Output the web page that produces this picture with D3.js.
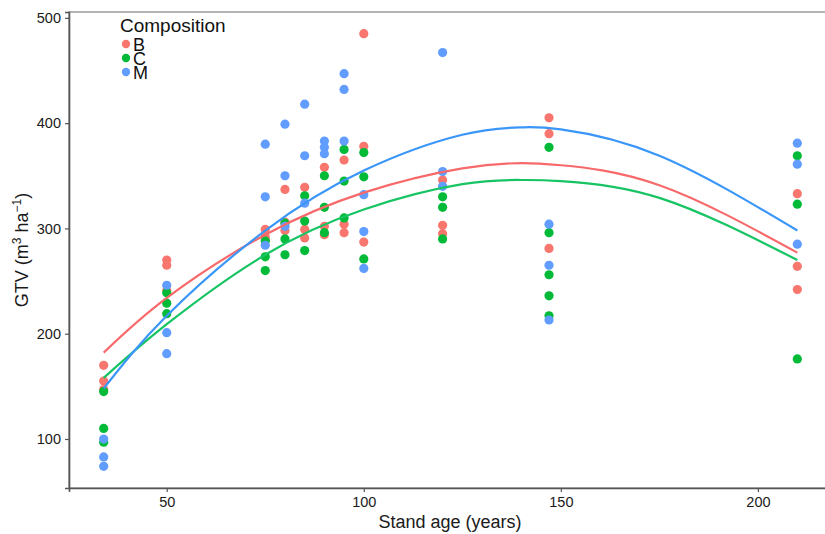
<!DOCTYPE html>
<html>
<head>
<meta charset="utf-8">
<script src="https://cdn.jsdelivr.net/npm/d3@7"></script>
<style>
  html, body { margin: 0; padding: 0; background: #fff; }
  svg { display: block; font-family: "Liberation Sans", Arial, sans-serif; }
</style>
</head>
<body>
<svg id="chart" width="825" height="534"></svg>
<script>
// Stand ages sampled
const ages = [34, 50, 75, 80, 85, 90, 95, 100, 120, 147, 210];

// Gross total volume (m3/ha) per stand age, by composition
const volB = [
  [170, 155, 147], [270, 265, 241], [299, 292, 289], [337, 306, 298],
  [339, 299, 291], [358, 302, 294], [365, 304, 296], [485, 378, 287],
  [346, 303, 295], [405, 390, 281], [333, 264, 242]
];
const volC = [
  [145, 110, 97], [239, 229, 219], [288, 273, 260], [305, 290, 275],
  [331, 307, 279], [350, 320, 296], [375, 345, 310], [372, 349, 271],
  [330, 320, 290], [377, 296, 256, 236, 217], [369, 323, 176]
];
const volM = [
  [100, 83, 74], [246, 201, 181], [380, 330, 284], [399, 350, 302],
  [418, 369, 324], [383, 377, 371], [447, 432, 383], [332, 297, 262],
  [467, 354, 340], [304, 265, 213], [381, 361, 285]
];

// Quadratic trend curves per composition, sampled along stand age
const trendAges = [34, 50, 75, 100, 125, 140, 150, 175, 210];
const trendB = [182, 234, 294, 334, 357, 362, 360, 341, 277];
const trendC = [158, 209, 275, 318, 342, 346, 345, 329, 270];
const trendM = [148, 217, 298, 355, 389, 396, 394, 369, 298];

const groups = ["B", "C", "M"];
const pointColors = ["#F8766D", "#00BA38", "#619CFF"];
const lineColors = ["#F8696B", "#17C463", "#3A96F8"];
const xTicks = [50, 100, 150, 200];
const yTicks = [100, 200, 300, 400, 500];

const series = [volB, volC, volM];
const trends = [trendB, trendC, trendM];
const points = [];
series.forEach((s, gi) => s.forEach((vals, ai) => vals.forEach(v =>
  points.push({ group: groups[gi], gi, age: ages[ai], vol: v }))));

// Panel geometry
const svg = d3.select("#chart");
const panelLeft = 69, panelTop = 12, panelBottom = 488, panelRight = 832;

const xExt = d3.extent(points, d => d.age);
const yExt = d3.extent(points, d => d.vol);
const xPad = (xExt[1] - xExt[0]) * 0.05, yPad = (yExt[1] - yExt[0]) * 0.05;

const x = d3.scaleLinear().domain([xExt[0] - xPad, xExt[1] + xPad]).range([panelLeft, panelRight]);
const y = d3.scaleLinear().domain([yExt[0] - yPad, yExt[1] + yPad]).range([panelBottom, panelTop]);

// Panel border (top edge visible)
svg.append("rect")
  .attr("x", panelLeft).attr("y", panelTop)
  .attr("width", panelRight - panelLeft).attr("height", panelBottom - panelTop)
  .attr("fill", "none").attr("stroke", "#9a9a9a").attr("stroke-width", 1.5);

// Axes
const xAxis = svg.append("g").attr("transform", `translate(0,${panelBottom})`)
  .call(d3.axisBottom(x).tickValues(xTicks).tickSize(4).tickPadding(5));
const yAxis = svg.append("g").attr("transform", `translate(${panelLeft},0)`)
  .call(d3.axisLeft(y).tickValues(yTicks).tickSize(4).tickPadding(4));
[xAxis, yAxis].forEach(g => {
  g.select(".domain").attr("stroke", "#555").attr("stroke-width", 1.6);
  g.selectAll(".tick line").attr("stroke", "#555").attr("stroke-width", 1.2);
  g.selectAll(".tick text").attr("fill", "#1a1a1a")
    .style("font-size", "14.5px").style("font-family", "Liberation Sans, Arial, sans-serif");
});

// Points
svg.append("g").selectAll("circle").data(points).join("circle")
  .attr("cx", d => x(d.age)).attr("cy", d => y(d.vol)).attr("r", 4.6)
  .attr("fill", d => pointColors[d.gi]);

// Trend curves
const line = d3.line().x(d => x(d[0])).y(d => y(d[1])).curve(d3.curveNatural);
trends.forEach((t, gi) => {
  svg.append("path")
    .attr("d", line(trendAges.map((a, i) => [a, t[i]])))
    .attr("fill", "none").attr("stroke", lineColors[gi]).attr("stroke-width", 2.2);
});

// Axis titles
svg.append("text").attr("x", 450).attr("y", 528).attr("text-anchor", "middle")
  .attr("fill", "#1a1a1a").style("font-size", "18px").text("Stand age (years)");

const yt = svg.append("text")
  .attr("transform", "translate(28,250) rotate(-90)")
  .attr("text-anchor", "middle").attr("fill", "#1a1a1a").style("font-size", "18px");
yt.append("tspan").text("GTV (m");
yt.append("tspan").attr("dy", -7).style("font-size", "12px").text("3");
yt.append("tspan").attr("dy", 7).text(" ha");
yt.append("tspan").attr("dy", -7).style("font-size", "12px").text("\u22121");
yt.append("tspan").attr("dy", 7).text(")");

// Legend
const leg = svg.append("g");
leg.append("text").attr("x", 120).attr("y", 32).attr("fill", "#111")
  .style("font-size", "19px").text("Composition");
groups.forEach((g, i) => {
  const cy = 44 + i * 14;
  leg.append("circle").attr("cx", 126).attr("cy", cy).attr("r", 4.2).attr("fill", pointColors[i]);
  leg.append("text").attr("x", 133).attr("y", cy + 7).attr("fill", "#111")
    .style("font-size", "18px").text(g);
});
</script>
</body>
</html>
